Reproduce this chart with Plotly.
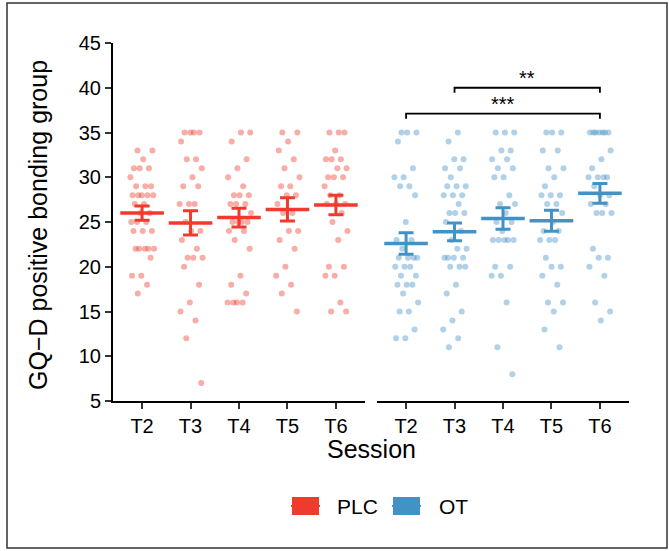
import plotly.graph_objects as go

sessions = ["T2", "T3", "T4", "T5", "T6"]
groups = ["PLC", "OT"]

plc_T2 = [33,33,32,31,31,31,30,29,29,29,28,28,28,28,28,27,27,26,26,25,25,25,24,24,24,22,22,22,22,22,21,19,19,18,17]
plc_T3 = [35,35,35,35,34,32,32,31,30,29,29,27,27,27,25,24,24,23,22,21,21,21,20,18,16,15,14,12,7]
plc_T4 = [35,35,34,32,31,30,29,28,28,28,27,27,27,26,25,25,25,25,24,24,23,22,19,18,17,16,16,16,16]
plc_T5 = [35,35,34,33,32,31,30,29,29,28,28,27,26,26,24,24,23,22,20,19,18,17,15]
plc_T6 = [35,35,35,33,32,32,32,31,31,30,30,30,29,28,28,27,27,27,26,25,24,23,20,20,19,19,16,15,15]

ot_T2 = [35,35,35,34,31,30,30,29,29,28,25,23,23,22,21,21,21,21,20,20,20,19,19,18,18,18,17,16,15,15,13,12,12]
ot_T3 = [35,34,32,32,31,31,30,29,29,29,28,28,28,27,26,26,26,25,24,23,22,22,21,21,21,21,20,20,20,18,17,15,14,13,12,11]
ot_T4 = [35,35,35,33,33,32,32,31,31,30,30,28,27,27,26,25,25,24,23,23,23,23,23,20,20,19,19,16,11,8]
ot_T5 = [35,35,35,33,33,31,31,30,29,28,28,28,27,27,26,25,24,24,23,23,23,21,20,20,19,18,16,16,15,13,11]
ot_T6 = [35,35,35,35,35,35,35,33,32,31,30,30,30,30,29,28,28,27,27,26,26,26,22,21,21,20,19,16,15,14]

plc_mean = [26.0, 24.9, 25.5, 26.4, 26.9]
plc_se = [0.8, 1.35, 1.05, 1.3, 1.1]
ot_mean = [22.6, 23.9, 25.4, 25.15, 28.2]
ot_se = [1.2, 1.0, 1.2, 1.17, 1.1]

comparisons = [("T2", "T6", "***"), ("T3", "T6", "**")]
comparison_heights = [37.1, 40.0]

y_ticks = [5, 10, 15, 20, 25, 30, 35, 40, 45]

RED = "#EF3B2C"
BLUE = "#4292C6"
FONT = "Liberation Sans, Arial, Helvetica, sans-serif"

plc_data = [plc_T2, plc_T3, plc_T4, plc_T5, plc_T6]
ot_data = [ot_T2, ot_T3, ot_T4, ot_T5, ot_T6]

fig = go.Figure()


def jitter(k):
    return (((k * 0.6180339887 + 0.31) % 1.0) * 2 - 1) * 0.25


def add_group(data, means, ses, color, xa):
    for i, vals in enumerate(data):
        pos = i + 1
        xs = [pos + jitter(k + 7 * i) for k in range(len(vals))]
        fig.add_trace(go.Scatter(
            x=xs, y=vals, mode="markers", xaxis=xa, yaxis="y",
            marker=dict(size=6, color=color, opacity=0.42, line=dict(width=0)),
            showlegend=False, hoverinfo="y"))
    cx, cy = [], []
    for i, m in enumerate(means):
        cx += [i + 1 - 0.45, i + 1 + 0.45, None]
        cy += [m, m, None]
    fig.add_trace(go.Scatter(x=cx, y=cy, mode="lines", xaxis=xa, yaxis="y",
                             line=dict(color=color, width=3.5), showlegend=False,
                             hoverinfo="skip"))
    fig.add_trace(go.Scatter(
        x=[i + 1 for i in range(len(means))], y=means, mode="markers",
        xaxis=xa, yaxis="y", marker=dict(size=1, color=color, opacity=0),
        error_y=dict(type="data", array=ses, color=color, thickness=3, width=7.5),
        showlegend=False, hoverinfo="y"))


add_group(plc_data, plc_mean, plc_se, RED, "x")
add_group(ot_data, ot_mean, ot_se, BLUE, "x2")

annotations = []
for (a, b, lab), h in zip(comparisons, comparison_heights):
    xa = sessions.index(a) + 1
    xb = sessions.index(b) + 1
    fig.add_trace(go.Scatter(x=[xa, xa, xb, xb], y=[h - 0.55, h, h, h - 0.55],
                             mode="lines", xaxis="x2", yaxis="y",
                             line=dict(color="black", width=1.8),
                             showlegend=False, hoverinfo="skip"))
    annotations.append(dict(x=(xa + xb) / 2, y=h, xref="x2", yref="y", text=lab,
                            showarrow=False, yanchor="bottom", yshift=-3,
                            font=dict(size=20, color="black", family=FONT)))

PW, PH = 516.0, 358.0
L, T = 113, 43


def px(x):
    return (x - L) / PW


def py(y):
    return (T + PH - y) / PH


annotations.append(dict(x=0.5, y=py(449), xref="paper", yref="paper", text="Session",
                        showarrow=False, xanchor="center", yanchor="middle",
                        font=dict(size=25, color="black", family=FONT)))
annotations.append(dict(x=px(38), y=py(225), xref="paper", yref="paper",
                        text="GQ\u2212D positive bonding group", textangle=-90,
                        showarrow=False, xanchor="center", yanchor="middle",
                        font=dict(size=25, color="black", family=FONT)))

shapes = []
legend_items = [("PLC", RED, 292, 335), ("OT", BLUE, 393, 437)]
for name, col, bx, tx in legend_items:
    shapes.append(dict(type="rect", xref="paper", yref="paper",
                       x0=px(bx), x1=px(bx + 27), y0=py(515), y1=py(497),
                       fillcolor=col, line=dict(width=0)))
    shapes.append(dict(type="line", xref="paper", yref="paper",
                       x0=px(bx - 1), x1=px(bx + 28), y0=py(506), y1=py(506),
                       line=dict(color=col, width=2)))
    annotations.append(dict(x=px(tx), y=py(506), xref="paper", yref="paper", text=name,
                            showarrow=False, xanchor="left", yanchor="middle",
                            font=dict(size=21, color="black", family=FONT)))

shapes.append(dict(type="rect", xref="paper", yref="paper",
                   x0=px(7), x1=px(667), y0=py(548), y1=py(3),
                   line=dict(color="#333333", width=1.5), fillcolor="rgba(0,0,0,0)"))

axis_common = dict(range=[0.4, 5.6], tickvals=[1, 2, 3, 4, 5], ticktext=sessions,
                   showline=True, linecolor="black", linewidth=2, ticks="outside",
                   ticklen=6, tickwidth=2, tickcolor="#333333", showgrid=False,
                   zeroline=False, tickfont=dict(size=20, color="black", family=FONT),
                   fixedrange=True)

fig.update_layout(
    width=669, height=551,
    margin=dict(l=L, r=40, t=T, b=150, pad=0),
    paper_bgcolor="white", plot_bgcolor="white",
    showlegend=False,
    xaxis=dict(domain=[0, 252 / PW], anchor="y", **axis_common),
    xaxis2=dict(domain=[264 / PW, 1], anchor="y", **axis_common),
    yaxis=dict(range=[5, 45], tickvals=y_ticks, showline=True, linecolor="black",
               linewidth=2, ticks="outside", ticklen=6, tickwidth=2, tickcolor="#333333",
               showgrid=False, zeroline=False, anchor="x", fixedrange=True,
               tickfont=dict(size=20, color="black", family=FONT)),
    annotations=annotations,
    shapes=shapes,
    font=dict(family=FONT, color="black"),
)

fig.write_html("out.html", config={"displayModeBar": False},
               post_script="document.body.style.margin='0';document.body.style.overflow='hidden';")
